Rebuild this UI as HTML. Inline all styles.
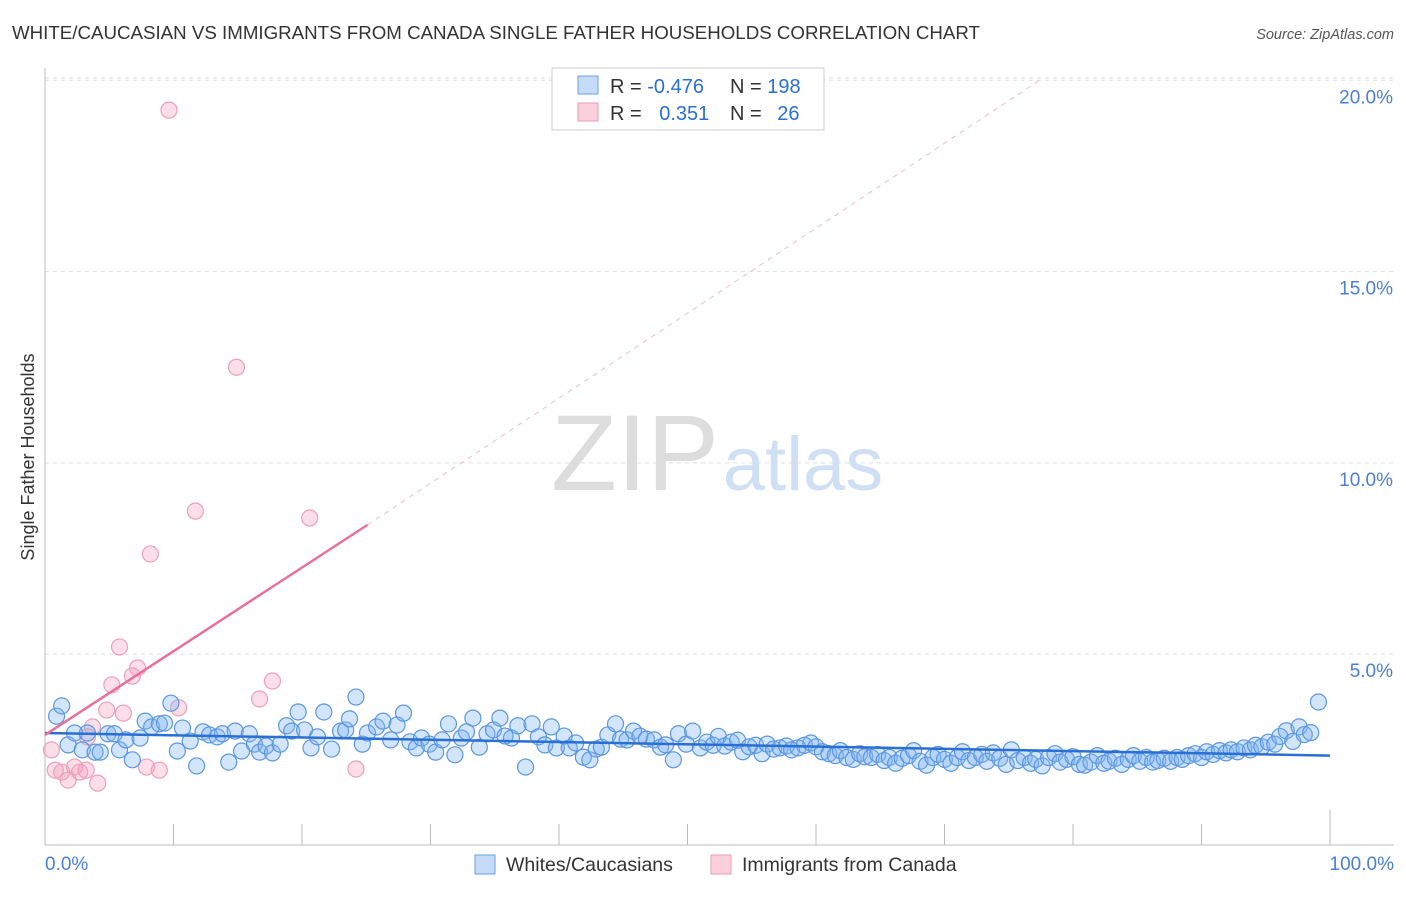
<!DOCTYPE html>
<html><head><meta charset="utf-8"><style>
body{margin:0;background:#fff;font-family:"Liberation Sans",sans-serif}
svg text{font-family:"Liberation Sans",sans-serif}
</style></head><body>
<svg width="1406" height="892" xmlns="http://www.w3.org/2000/svg">
<text x="12" y="39" font-size="18.5" fill="#333" textLength="968" lengthAdjust="spacingAndGlyphs">WHITE/CAUCASIAN VS IMMIGRANTS FROM CANADA SINGLE FATHER HOUSEHOLDS CORRELATION CHART</text>
<text x="1394" y="39" font-size="14.5" fill="#555" font-style="italic" text-anchor="end">Source: ZipAtlas.com</text>
<g id="grid"></g>
<text x="635" y="490" font-size="108" fill="#ddd" font-family="Liberation Serif" text-anchor="middle">ZIP</text>
<text x="803" y="490" font-size="76" fill="#cfe0f5" text-anchor="middle">atlas</text>
<g id="marks"></g>
<text x="34" y="457" font-size="18" fill="#333" transform="rotate(-90 34 457)" text-anchor="middle">Single Father Households</text>
<text x="45" y="870" font-size="19" fill="#4a7fd4">0.0%</text>
<text x="1394" y="870" font-size="19" fill="#4a7fd4" text-anchor="end">100.0%</text>
<g>
<rect x="552" y="68" width="272" height="62" fill="#fff" stroke="#ccc"/>
<rect x="578" y="76" width="20" height="18" fill="#c5dbf7" stroke="#6aa0e0"/>
<rect x="578" y="103" width="20" height="18" fill="#fbd0dc" stroke="#eb9ab2"/>
<text x="610" y="93" font-size="20" fill="#333">R = <tspan fill="#2a6fd6">-0.476</tspan></text>
<text x="730" y="93" font-size="20" fill="#333">N = <tspan fill="#2a6fd6">198</tspan></text>
<text x="610" y="120" font-size="20" fill="#333">R = <tspan fill="#2a6fd6" dx="12">0.351</tspan></text>
<text x="730" y="120" font-size="20" fill="#333">N = <tspan fill="#2a6fd6" dx="10">26</tspan></text>
</g>
<g>
<rect x="475" y="855" width="20" height="19" fill="#c5dbf7" stroke="#6aa0e0"/>
<text x="506" y="871" font-size="19.5" fill="#333">Whites/Caucasians</text>
<rect x="711" y="855" width="20" height="19" fill="#fbd0dc" stroke="#eb9ab2"/>
<text x="742" y="871" font-size="19.5" fill="#333">Immigrants from Canada</text>
</g>
</svg>
<script>
const yTicks=[5,10,15,20];
const yTickLabels=["5.0%","10.0%","15.0%","20.0%"];
const xTicks=[0,10,20,30,40,50,60,70,80,90,100];
const blueX=[0.9,1.3,1.8,2.3,2.9,3.3,3.9,4.3,4.9,5.4,5.8,6.3,6.8,7.4,7.8,8.3,8.9,9.3,9.8,10.3,10.7,11.3,11.8,12.3,12.8,13.4,13.8,14.3,14.8,15.3,15.9,16.3,16.7,17.2,17.7,18.3,18.8,19.2,19.7,20.2,20.7,21.2,21.7,22.3,23.0,23.4,23.7,24.2,24.7,25.1,25.8,26.3,26.9,27.4,27.9,28.4,28.9,29.3,29.9,30.4,30.9,31.4,31.9,32.4,32.8,33.3,33.8,34.4,34.9,35.4,35.8,36.3,36.8,37.4,37.9,38.4,38.9,39.4,39.8,40.4,40.8,41.3,41.9,42.4,42.9,43.3,43.8,44.4,44.8,45.3,45.8,46.3,46.8,47.4,47.9,48.3,48.9,49.3,49.9,50.4,
51.0,51.5,52.0,52.4,52.9,53.4,53.9,54.3,54.8,55.3,55.8,56.2,56.7,57.2,57.7,58.1,58.6,59.1,59.6,60.0,60.5,61.0,61.5,61.9,62.4,62.9,63.4,63.8,64.3,64.8,65.3,65.7,66.2,66.7,67.2,67.6,68.1,68.6,69.1,69.5,70.0,70.5,71.0,71.4,71.9,72.4,72.9,73.3,73.8,74.3,74.8,75.2,75.7,76.2,76.7,77.1,77.6,78.1,78.6,79.0,79.5,80.0,80.5,80.9,81.4,81.9,82.4,82.8,83.3,83.8,84.3,84.7,85.2,85.7,86.2,86.6,87.1,87.6,88.1,88.5,89.0,89.5,90.0,90.4,90.9,91.4,91.9,92.3,92.8,93.3,93.8,94.2,94.7,95.2,95.7,96.1,96.6,97.1,97.6,98.0,98.5,99.0];
const blueY=[3.38,3.65,2.63,2.94,2.5,2.94,2.44,2.44,2.92,2.92,2.5,2.76,2.24,2.81,3.25,3.1,3.18,3.2,3.72,2.47,3.07,2.73,2.08,2.97,2.89,2.84,2.92,2.18,2.99,2.47,2.92,2.65,2.44,2.6,2.42,2.65,3.13,2.99,3.49,3.02,2.55,2.84,3.49,2.52,2.99,3.02,3.31,3.88,2.65,2.94,3.1,3.25,2.76,3.15,3.46,2.71,2.55,2.81,2.65,2.44,2.76,3.18,2.37,2.81,2.97,3.33,2.57,2.92,3.02,3.33,2.86,2.81,3.13,2.05,3.18,2.84,2.63,3.1,2.55,2.86,2.55,2.68,2.31,2.24,2.52,2.57,2.89,3.18,2.78,2.76,2.99,2.86,2.78,2.76,2.57,2.63,2.24,2.92,2.65,2.99,
2.55,2.7,2.62,2.85,2.6,2.7,2.75,2.45,2.58,2.62,2.4,2.65,2.52,2.55,2.6,2.5,2.55,2.62,2.68,2.58,2.45,2.4,2.35,2.48,2.3,2.25,2.4,2.32,2.3,2.38,2.22,2.3,2.15,2.28,2.35,2.48,2.2,2.1,2.3,2.38,2.25,2.15,2.3,2.45,2.22,2.3,2.38,2.2,2.42,2.28,2.12,2.5,2.22,2.3,2.15,2.25,2.08,2.3,2.4,2.18,2.25,2.32,2.12,2.1,2.18,2.35,2.15,2.2,2.28,2.12,2.25,2.35,2.2,2.3,2.18,2.22,2.28,2.2,2.3,2.25,2.35,2.4,2.3,2.45,2.38,2.48,2.42,2.5,2.45,2.55,2.5,2.62,2.58,2.7,2.65,2.85,3.0,2.72,3.1,2.9,2.95];
const blueExtraX=[99.1];
const blueExtraY=[3.75];
const pinkX=[9.65,14.9,11.7,20.6,8.2,5.8,7.2,6.8,5.2,17.7,16.7,10.4,4.8,6.1,3.7,3.3,0.5,0.8,1.3,1.8,2.3,2.7,3.2,4.1,7.9,8.9,24.2];
const pinkY=[19.22,12.5,8.74,8.56,7.62,5.19,4.64,4.43,4.2,4.3,3.83,3.6,3.54,3.46,3.1,2.84,2.5,1.97,1.92,1.71,2.05,1.92,1.97,1.63,2.05,1.97,2.0];
const blueTrend=[[0,2.94],[100,2.35]];
const pinkTrend=[[0,2.89],[25.1,8.38]];
const pinkDash=[[25.1,8.38],[77.4,20]];

const NS="http://www.w3.org/2000/svg";
const X0=45,X1=1330,Y0=845.5,PY=38.26;
const sx=v=>X0+v*(X1-X0)/100, sy=v=>Y0-v*PY;
function mk(tag,attrs,parent){const e=document.createElementNS(NS,tag);for(const k in attrs)e.setAttribute(k,attrs[k]);parent.appendChild(e);return e;}
const grid=document.getElementById('grid'),marks=document.getElementById('marks');
let gl=mk('line',{x1:X0,x2:1394,y1:78,y2:78,stroke:'#ddd','stroke-dasharray':'4,4'},grid);


yTicks.forEach((t,i)=>{
 const l=mk('line',{x1:X0,x2:1394,y1:sy(t),y2:sy(t),stroke:'#ddd','stroke-dasharray':'4,4'},grid);
 
 
 const tx=mk('text',{x:1393,y:sy(t)+23,'font-size':19,fill:'#4a7fd4','text-anchor':'end'},grid);
 tx.textContent=yTickLabels[i];
 
 
});
let ax=mk('line',{x1:X0,x2:1394,y1:845,y2:845,stroke:'#bbb'},grid);


let ay=mk('line',{x1:X0,x2:X0,y1:68,y2:845,stroke:'#bbb'},grid);


xTicks.forEach(t=>{const l=mk('line',{x1:sx(t),x2:sx(t),y1:t==100?810:824,y2:845,stroke:'#bbb'},grid);
 
 });
function dots(xs,ys,fill,stroke,name){const n=Math.min(xs.length,ys.length);for(let i=0;i<n;i++){const c=mk('circle',{cx:sx(xs[i]),cy:sy(ys[i]),r:8,fill:fill,stroke:stroke,'stroke-width':1.2},marks);
 
 }}
dots(pinkX,pinkY,'rgba(244,160,188,0.35)','#eda0b8','pink-point');
dots(blueX,blueY,'rgba(130,180,240,0.35)','#5b97e0','blue-point');
dots(blueExtraX,blueExtraY,'rgba(130,180,240,0.35)','#5b97e0','blue-point');
function line(p,st,w,dash,name){const l=mk('line',{x1:sx(p[0][0]),y1:sy(p[0][1]),x2:sx(p[1][0]),y2:sy(p[1][1]),stroke:st,'stroke-width':w},marks);if(dash)l.setAttribute('stroke-dasharray',dash);
 
 }
line(pinkDash,'#eebccc',1,'5,5','pink-trend-extension');
line(blueTrend,'#2a6fd6',2.5,null,'blue-trend-line');
line(pinkTrend,'#e8709a',2.5,null,'pink-trend-line');
</script>
</body></html>
